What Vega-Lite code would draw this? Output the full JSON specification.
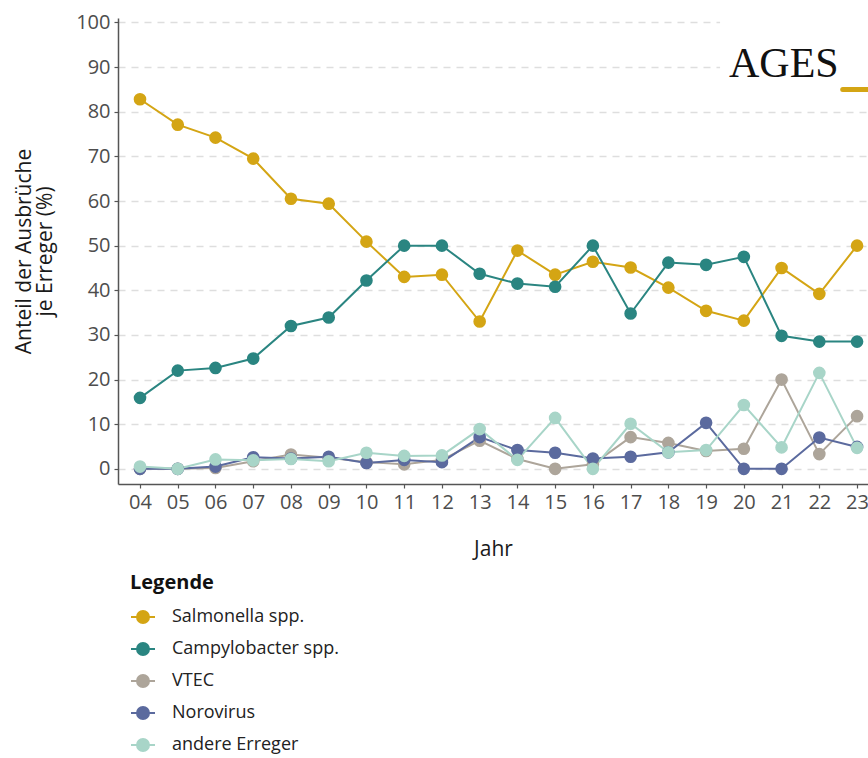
{
  "$schema": "https://vega.github.io/schema/vega-lite/v6.json",
  "autosize": "none",
  "padding": {"left": 118, "top": 18, "right": 0, "bottom": 274},
  "width": 750,
  "height": 466,
  "background": "white",
  "config": {
    "font": "Open Sans",
    "view": {"stroke": null},
    "axis": {
      "labelFont": "Open Sans",
      "labelFontSize": 20,
      "labelColor": "#4d4d4d",
      "titleFont": "Open Sans",
      "titleFontSize": 21,
      "titleFontWeight": "normal",
      "titleColor": "#1a1a1a",
      "domainColor": "#555555",
      "domainWidth": 1.5,
      "tickColor": "#555555",
      "tickWidth": 1.2,
      "tickSize": 4,
      "labelPadding": 4,
      "labelOverlap": false,
      "labelFlush": false
    }
  },
  "datasets": {
    "main": [
      {"Jahr": 2004, "Erreger": "Salmonella spp.", "Anteil": 82.8},
      {"Jahr": 2005, "Erreger": "Salmonella spp.", "Anteil": 77.1},
      {"Jahr": 2006, "Erreger": "Salmonella spp.", "Anteil": 74.2},
      {"Jahr": 2007, "Erreger": "Salmonella spp.", "Anteil": 69.5},
      {"Jahr": 2008, "Erreger": "Salmonella spp.", "Anteil": 60.5},
      {"Jahr": 2009, "Erreger": "Salmonella spp.", "Anteil": 59.4},
      {"Jahr": 2010, "Erreger": "Salmonella spp.", "Anteil": 50.9},
      {"Jahr": 2011, "Erreger": "Salmonella spp.", "Anteil": 43.0},
      {"Jahr": 2012, "Erreger": "Salmonella spp.", "Anteil": 43.5},
      {"Jahr": 2013, "Erreger": "Salmonella spp.", "Anteil": 33.0},
      {"Jahr": 2014, "Erreger": "Salmonella spp.", "Anteil": 48.9},
      {"Jahr": 2015, "Erreger": "Salmonella spp.", "Anteil": 43.5},
      {"Jahr": 2016, "Erreger": "Salmonella spp.", "Anteil": 46.4},
      {"Jahr": 2017, "Erreger": "Salmonella spp.", "Anteil": 45.1},
      {"Jahr": 2018, "Erreger": "Salmonella spp.", "Anteil": 40.6},
      {"Jahr": 2019, "Erreger": "Salmonella spp.", "Anteil": 35.4},
      {"Jahr": 2020, "Erreger": "Salmonella spp.", "Anteil": 33.2},
      {"Jahr": 2021, "Erreger": "Salmonella spp.", "Anteil": 45.0},
      {"Jahr": 2022, "Erreger": "Salmonella spp.", "Anteil": 39.2},
      {"Jahr": 2023, "Erreger": "Salmonella spp.", "Anteil": 50.0},
      {"Jahr": 2004, "Erreger": "Campylobacter spp.", "Anteil": 15.9},
      {"Jahr": 2005, "Erreger": "Campylobacter spp.", "Anteil": 22.0},
      {"Jahr": 2006, "Erreger": "Campylobacter spp.", "Anteil": 22.6},
      {"Jahr": 2007, "Erreger": "Campylobacter spp.", "Anteil": 24.7},
      {"Jahr": 2008, "Erreger": "Campylobacter spp.", "Anteil": 32.0},
      {"Jahr": 2009, "Erreger": "Campylobacter spp.", "Anteil": 33.9},
      {"Jahr": 2010, "Erreger": "Campylobacter spp.", "Anteil": 42.2},
      {"Jahr": 2011, "Erreger": "Campylobacter spp.", "Anteil": 50.0},
      {"Jahr": 2012, "Erreger": "Campylobacter spp.", "Anteil": 50.0},
      {"Jahr": 2013, "Erreger": "Campylobacter spp.", "Anteil": 43.7},
      {"Jahr": 2014, "Erreger": "Campylobacter spp.", "Anteil": 41.5},
      {"Jahr": 2015, "Erreger": "Campylobacter spp.", "Anteil": 40.8},
      {"Jahr": 2016, "Erreger": "Campylobacter spp.", "Anteil": 50.0},
      {"Jahr": 2017, "Erreger": "Campylobacter spp.", "Anteil": 34.8},
      {"Jahr": 2018, "Erreger": "Campylobacter spp.", "Anteil": 46.2},
      {"Jahr": 2019, "Erreger": "Campylobacter spp.", "Anteil": 45.7},
      {"Jahr": 2020, "Erreger": "Campylobacter spp.", "Anteil": 47.5},
      {"Jahr": 2021, "Erreger": "Campylobacter spp.", "Anteil": 29.8},
      {"Jahr": 2022, "Erreger": "Campylobacter spp.", "Anteil": 28.5},
      {"Jahr": 2023, "Erreger": "Campylobacter spp.", "Anteil": 28.5},
      {"Jahr": 2004, "Erreger": "VTEC", "Anteil": 0.0},
      {"Jahr": 2005, "Erreger": "VTEC", "Anteil": 0.0},
      {"Jahr": 2006, "Erreger": "VTEC", "Anteil": 0.2},
      {"Jahr": 2007, "Erreger": "VTEC", "Anteil": 1.7},
      {"Jahr": 2008, "Erreger": "VTEC", "Anteil": 3.2},
      {"Jahr": 2009, "Erreger": "VTEC", "Anteil": 2.5},
      {"Jahr": 2010, "Erreger": "VTEC", "Anteil": 1.5},
      {"Jahr": 2011, "Erreger": "VTEC", "Anteil": 1.0},
      {"Jahr": 2012, "Erreger": "VTEC", "Anteil": 2.0},
      {"Jahr": 2013, "Erreger": "VTEC", "Anteil": 6.3},
      {"Jahr": 2014, "Erreger": "VTEC", "Anteil": 2.2},
      {"Jahr": 2015, "Erreger": "VTEC", "Anteil": 0.0},
      {"Jahr": 2016, "Erreger": "VTEC", "Anteil": 1.0},
      {"Jahr": 2017, "Erreger": "VTEC", "Anteil": 7.1},
      {"Jahr": 2018, "Erreger": "VTEC", "Anteil": 5.8},
      {"Jahr": 2019, "Erreger": "VTEC", "Anteil": 4.0},
      {"Jahr": 2020, "Erreger": "VTEC", "Anteil": 4.5},
      {"Jahr": 2021, "Erreger": "VTEC", "Anteil": 20.0},
      {"Jahr": 2022, "Erreger": "VTEC", "Anteil": 3.3},
      {"Jahr": 2023, "Erreger": "VTEC", "Anteil": 11.8},
      {"Jahr": 2004, "Erreger": "Norovirus", "Anteil": 0.0},
      {"Jahr": 2005, "Erreger": "Norovirus", "Anteil": 0.0},
      {"Jahr": 2006, "Erreger": "Norovirus", "Anteil": 0.5},
      {"Jahr": 2007, "Erreger": "Norovirus", "Anteil": 2.6},
      {"Jahr": 2008, "Erreger": "Norovirus", "Anteil": 2.3},
      {"Jahr": 2009, "Erreger": "Norovirus", "Anteil": 2.7},
      {"Jahr": 2010, "Erreger": "Norovirus", "Anteil": 1.3},
      {"Jahr": 2011, "Erreger": "Norovirus", "Anteil": 2.0},
      {"Jahr": 2012, "Erreger": "Norovirus", "Anteil": 1.5},
      {"Jahr": 2013, "Erreger": "Norovirus", "Anteil": 7.1},
      {"Jahr": 2014, "Erreger": "Norovirus", "Anteil": 4.2},
      {"Jahr": 2015, "Erreger": "Norovirus", "Anteil": 3.6},
      {"Jahr": 2016, "Erreger": "Norovirus", "Anteil": 2.3},
      {"Jahr": 2017, "Erreger": "Norovirus", "Anteil": 2.7},
      {"Jahr": 2018, "Erreger": "Norovirus", "Anteil": 3.7},
      {"Jahr": 2019, "Erreger": "Norovirus", "Anteil": 10.3},
      {"Jahr": 2020, "Erreger": "Norovirus", "Anteil": 0.0},
      {"Jahr": 2021, "Erreger": "Norovirus", "Anteil": 0.0},
      {"Jahr": 2022, "Erreger": "Norovirus", "Anteil": 7.0},
      {"Jahr": 2023, "Erreger": "Norovirus", "Anteil": 4.9},
      {"Jahr": 2004, "Erreger": "andere Erreger", "Anteil": 0.5},
      {"Jahr": 2005, "Erreger": "andere Erreger", "Anteil": 0.0},
      {"Jahr": 2006, "Erreger": "andere Erreger", "Anteil": 2.1},
      {"Jahr": 2007, "Erreger": "andere Erreger", "Anteil": 1.9},
      {"Jahr": 2008, "Erreger": "andere Erreger", "Anteil": 2.2},
      {"Jahr": 2009, "Erreger": "andere Erreger", "Anteil": 1.7},
      {"Jahr": 2010, "Erreger": "andere Erreger", "Anteil": 3.6},
      {"Jahr": 2011, "Erreger": "andere Erreger", "Anteil": 2.9},
      {"Jahr": 2012, "Erreger": "andere Erreger", "Anteil": 3.0},
      {"Jahr": 2013, "Erreger": "andere Erreger", "Anteil": 8.9},
      {"Jahr": 2014, "Erreger": "andere Erreger", "Anteil": 2.0},
      {"Jahr": 2015, "Erreger": "andere Erreger", "Anteil": 11.4},
      {"Jahr": 2016, "Erreger": "andere Erreger", "Anteil": 0.0},
      {"Jahr": 2017, "Erreger": "andere Erreger", "Anteil": 10.1},
      {"Jahr": 2018, "Erreger": "andere Erreger", "Anteil": 3.7},
      {"Jahr": 2019, "Erreger": "andere Erreger", "Anteil": 4.2},
      {"Jahr": 2020, "Erreger": "andere Erreger", "Anteil": 14.3},
      {"Jahr": 2021, "Erreger": "andere Erreger", "Anteil": 4.8},
      {"Jahr": 2022, "Erreger": "andere Erreger", "Anteil": 21.5},
      {"Jahr": 2023, "Erreger": "andere Erreger", "Anteil": 4.7}
    ],
    "one": [{"label": "AGES"}]
  },
  "layer": [
    {
      "data": {"name": "main"},
      "mark": {"type": "line", "strokeWidth": 2, "clip": false},
      "encoding": {
        "x": {
          "field": "Jahr", "type": "quantitative",
          "scale": {"domain": [2003.417, 2023.29], "nice": false, "zero": false},
          "axis": {
            "title": "Jahr", "titlePadding": 26,
            "values": [2004,2005,2006,2007,2008,2009,2010,2011,2012,2013,2014,2015,2016,2017,2018,2019,2020,2021,2022,2023],
            "tickCount": 20,
            "labelExpr": "substring(toString(datum.value), 2)",
            "grid": false, "labelOverlap": false, "labelFlush": false
          }
        },
        "y": {
          "field": "Anteil", "type": "quantitative",
          "scale": {"domain": [-3.4, 101], "nice": false, "zero": false},
          "axis": {
            "title": ["Anteil der Ausbrüche", "je Erreger (%)"],
            "titleLineHeight": 21, "titlePadding": 20,
            "values": [0,10,20,30,40,50,60,70,80,90,100],
            "grid": true, "gridColor": "#dedede", "gridDash": [7, 6], "gridWidth": 1.5,
            "labelOverlap": false, "labelFlush": false
          }
        },
        "color": {
          "field": "Erreger", "type": "nominal",
          "scale": {
            "domain": ["Salmonella spp.", "Campylobacter spp.", "VTEC", "Norovirus", "andere Erreger"],
            "range": ["#D4A514", "#2A8581", "#ADA59A", "#5B6A9E", "#A8D5C8"]
          },
          "legend": {
            "title": "Legende",
            "orient": "none", "legendX": 12, "legendY": 555,
            "titleFont": "Open Sans", "titleFontSize": 20, "titleFontWeight": "bold", "titleColor": "#111111",
            "titlePadding": 11,
            "labelFont": "Open Sans", "labelFontSize": 18, "labelColor": "#222222",
            "labelOffset": 16, "labelLimit": 400,
            "symbolType": "M-1,0H-0.5M0.5,0H1M-0.5,0A0.5,0.5 0 1,1 0.5,0A0.5,0.5 0 1,1 -0.5,0",
            "symbolSize": 576, "symbolStrokeWidth": 2,
            "rowPadding": 9,
            "encode": {"symbols": {"update": {"fill": {"scale": "color", "field": "value"}, "stroke": {"scale": "color", "field": "value"}, "opacity": {"value": 1}}}}
          }
        }
      }
    },
    {
      "data": {"name": "main"},
      "mark": {"type": "point", "filled": true, "size": 160, "opacity": 1, "clip": false},
      "encoding": {
        "x": {
          "field": "Jahr", "type": "quantitative",
          "scale": {"domain": [2003.417, 2023.29], "nice": false, "zero": false},
          "axis": {
            "title": "Jahr", "titlePadding": 26,
            "values": [2004,2005,2006,2007,2008,2009,2010,2011,2012,2013,2014,2015,2016,2017,2018,2019,2020,2021,2022,2023],
            "tickCount": 20,
            "labelExpr": "substring(toString(datum.value), 2)",
            "grid": false, "labelOverlap": false, "labelFlush": false
          }
        },
        "y": {
          "field": "Anteil", "type": "quantitative",
          "scale": {"domain": [-3.4, 101], "nice": false, "zero": false},
          "axis": {
            "title": ["Anteil der Ausbrüche", "je Erreger (%)"],
            "titleLineHeight": 21, "titlePadding": 20,
            "values": [0,10,20,30,40,50,60,70,80,90,100],
            "grid": true, "gridColor": "#dedede", "gridDash": [7, 6], "gridWidth": 1.5,
            "labelOverlap": false, "labelFlush": false
          }
        },
        "color": {"field": "Erreger", "type": "nominal"}
      }
    },
    {
      "data": {"name": "one"},
      "mark": {"type": "rect", "color": "white"},
      "encoding": {
        "x": {"datum": 2019.37, "type": "quantitative"},
        "x2": {"datum": 2023.29},
        "y": {"datum": 86, "type": "quantitative"},
        "y2": {"datum": 101}
      }
    },
    {
      "data": {"name": "one"},
      "mark": {"type": "text", "font": "Liberation Serif", "fontSize": 42, "color": "#111111", "baseline": "alphabetic", "align": "center"},
      "encoding": {
        "x": {"datum": 2021.06, "type": "quantitative"},
        "y": {"datum": 87.7, "type": "quantitative"},
        "text": {"field": "label"}
      }
    },
    {
      "data": {"name": "one"},
      "mark": {"type": "rule", "color": "#D4A514", "strokeWidth": 5, "strokeCap": "round"},
      "encoding": {
        "x": {"datum": 2022.62, "type": "quantitative"},
        "x2": {"datum": 2023.29},
        "y": {"datum": 85, "type": "quantitative"}
      }
    }
  ]
}
